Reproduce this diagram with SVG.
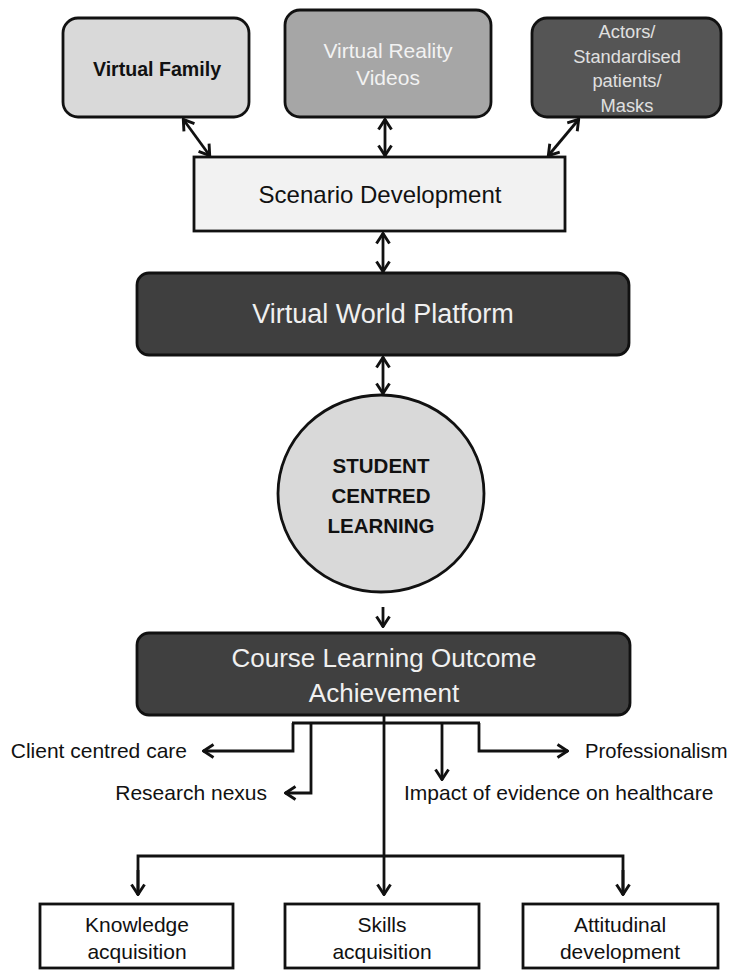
<svg xmlns="http://www.w3.org/2000/svg" width="732" height="971" viewBox="0 0 732 971">
<style>
text{font-family:"Liberation Sans",Arial,sans-serif;text-anchor:middle}
.box{stroke:#111;stroke-width:2.8}
.ln{fill:none;stroke:#111;stroke-width:2.8}
.dark{fill:#f0f0f0}
.blk{fill:#111}
.lbl{font-size:21px;fill:#111}
</style>
<defs>
<marker id="ah" viewBox="0 0 13 16" refX="12" refY="8" markerWidth="13" markerHeight="16" markerUnits="userSpaceOnUse" orient="auto-start-reverse">
<path d="M1.5,1.5 L11.5,8 L1.5,14.5" fill="none" stroke="#111" stroke-width="2.9"/>
</marker>
</defs>
<rect width="732" height="971" fill="#fff"/>
<g id="connectors">
<line class="ln" x1="183" y1="119" x2="210" y2="156" marker-start="url(#ah)" marker-end="url(#ah)"/>
<line class="ln" x1="385" y1="119" x2="385" y2="156" marker-start="url(#ah)" marker-end="url(#ah)"/>
<line class="ln" x1="579" y1="119" x2="548" y2="156" marker-start="url(#ah)" marker-end="url(#ah)"/>
<line class="ln" x1="383" y1="233" x2="383" y2="272" marker-start="url(#ah)" marker-end="url(#ah)"/>
<line class="ln" x1="383" y1="357" x2="383" y2="394" marker-start="url(#ah)" marker-end="url(#ah)"/>
<line class="ln" x1="383" y1="607" x2="383" y2="627" marker-end="url(#ah)"/>
<line class="ln" x1="384" y1="715" x2="384" y2="895" marker-end="url(#ah)"/>
<line class="ln" x1="292" y1="723" x2="480" y2="723"/>
<polyline class="ln" points="293,723 293,751 203,751" marker-end="url(#ah)"/>
<polyline class="ln" points="311,723 311,793 285,793" marker-end="url(#ah)"/>
<line class="ln" x1="442" y1="723" x2="442" y2="780" marker-end="url(#ah)"/>
<polyline class="ln" points="479,723 479,751 568,751" marker-end="url(#ah)"/>
<polyline class="ln" points="138,895 138,856 623,856 623,895"/>
<line class="ln" x1="138" y1="870" x2="138" y2="895" marker-end="url(#ah)"/>
<line class="ln" x1="623" y1="870" x2="623" y2="895" marker-end="url(#ah)"/>
</g>
<g id="virtual-family">
<rect class="box" x="63" y="18" width="186" height="99" rx="15" fill="#d9d9d9"/>
<text x="157" y="76" style="font-size:19.6px;font-weight:bold" class="blk">Virtual Family</text>
</g>
<g id="vr-videos">
<rect class="box" x="285" y="10" width="206" height="107" rx="15" fill="#a6a6a6"/>
<text x="388" y="58" style="font-size:21px" fill="#f2f2f2">Virtual Reality</text>
<text x="388" y="85" style="font-size:21px" fill="#f2f2f2">Videos</text>
</g>
<g id="actors">
<rect class="box" x="532" y="18" width="189" height="99" rx="15" fill="#555"/>
<g style="font-size:18.3px" fill="#e0e0e0">
<text x="627" y="38">Actors/</text>
<text x="627" y="63">Standardised</text>
<text x="627" y="87">patients/</text>
<text x="627" y="112">Masks</text>
</g>
</g>
<g id="scenario">
<rect class="box" x="194" y="157" width="371" height="74" fill="#f2f2f2"/>
<text x="380" y="203" style="font-size:24px" class="blk">Scenario Development</text>
</g>
<g id="vwp">
<rect class="box" x="137" y="273" width="492" height="82" rx="12" fill="#3f3f3f"/>
<text x="383" y="323" style="font-size:27px" class="dark">Virtual World Platform</text>
</g>
<g id="scl">
<ellipse class="box" cx="381" cy="493.5" rx="103" ry="98.5" fill="#d9d9d9"/>
<g style="font-size:20.5px;font-weight:bold" class="blk">
<text x="381" y="473">STUDENT</text>
<text x="381" y="503">CENTRED</text>
<text x="381" y="533">LEARNING</text>
</g>
</g>
<g id="cloa">
<rect class="box" x="137" y="633" width="493" height="82" rx="12" fill="#404040"/>
<text x="384" y="667" style="font-size:26px" class="dark">Course Learning Outcome</text>
<text x="384" y="702" style="font-size:26px" class="dark">Achievement</text>
</g>
<g id="client-centred-care"><text x="187" y="758" class="lbl" style="text-anchor:end">Client centred care</text></g>
<g id="research-nexus"><text x="267" y="800" class="lbl" style="text-anchor:end">Research nexus</text></g>
<g id="professionalism"><text x="585" y="758" class="lbl" style="text-anchor:start;font-size:20.2px">Professionalism</text></g>
<g id="impact"><text x="404" y="800" class="lbl" style="text-anchor:start">Impact of evidence on healthcare</text></g>
<g id="knowledge">
<rect class="box" x="40" y="904" width="193" height="64" fill="#fff"/>
<text x="137" y="932" class="lbl">Knowledge</text>
<text x="137" y="959" class="lbl">acquisition</text>
</g>
<g id="skills">
<rect class="box" x="285" y="904" width="194" height="64" fill="#fff"/>
<text x="382" y="932" class="lbl">Skills</text>
<text x="382" y="959" class="lbl">acquisition</text>
</g>
<g id="attitudinal">
<rect class="box" x="523" y="904" width="195" height="64" fill="#fff"/>
<text x="620" y="932" class="lbl">Attitudinal</text>
<text x="620" y="959" class="lbl">development</text>
</g>
</svg>
